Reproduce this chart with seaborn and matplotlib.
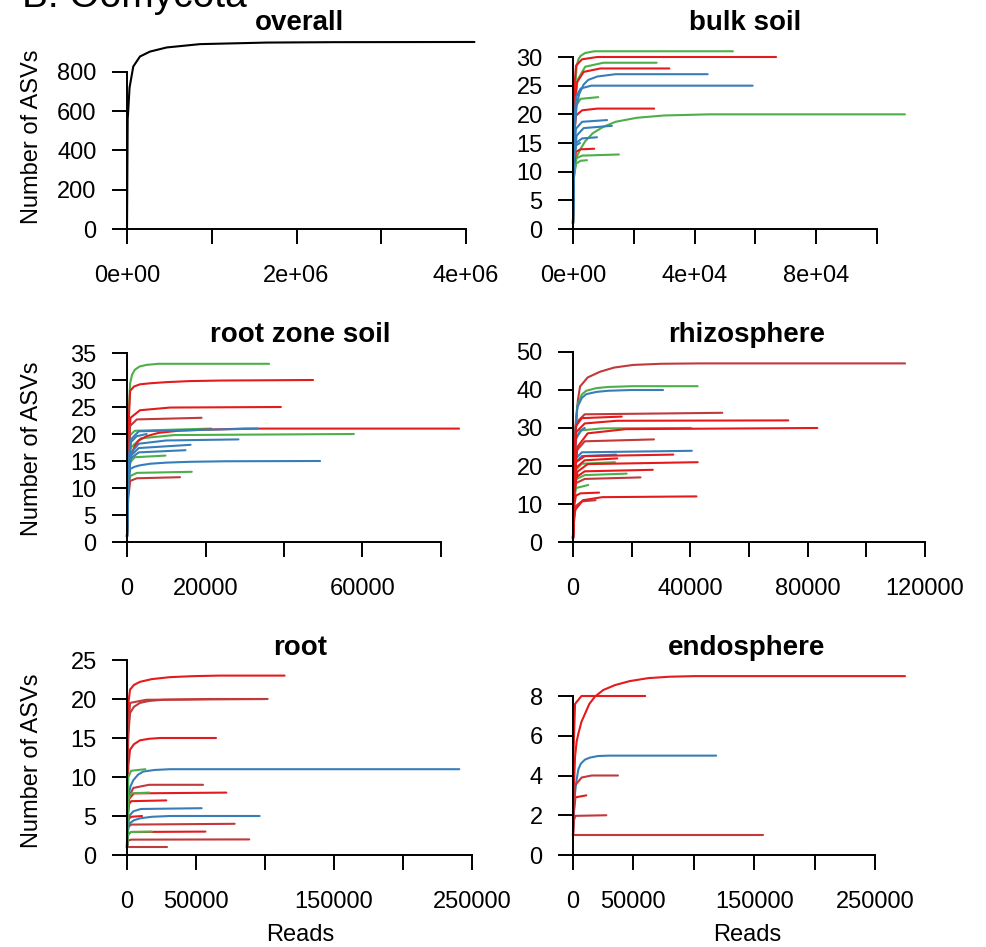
import matplotlib
matplotlib.use("Agg")
import matplotlib.pyplot as plt
import pandas as pd
import seaborn as sns

# rarefaction curves: points along each curve (reads, ASVs)
# group: R = red, D = dark red, B = blue, G = green, K = black

overall_group = ["K"]
overall_reads = [[0, 8000, 15000, 30000, 74000, 153000, 271000, 468000, 861000, 1650000, 2440000, 4100000]]
overall_asvs = [[1, 560, 607, 720, 828, 879, 904, 925, 942, 950, 952, 953]]

bulk_group = ["G", "R", "G", "R", "B", "B", "G", "R", "G", "B", "B", "B", "B", "R", "G", "G"]
bulk_reads = [
    [0, 400, 1200, 1800, 2500, 4000, 7000, 52600],
    [0, 300, 1000, 3000, 8000, 66800],
    [0, 400, 1500, 4000, 10000, 27500],
    [0, 300, 1200, 3500, 9000, 31700],
    [0, 500, 1200, 2000, 3500, 5000, 8000, 14000, 44300],
    [0, 300, 1000, 2500, 6000, 59100],
    [0, 300, 1000, 2500, 8300],
    [0, 300, 1000, 3000, 8000, 26700],
    [0, 300, 1200, 2300, 4000, 6500, 9900, 14000, 21000, 30000, 45000, 109200],
    [0, 300, 1000, 3000, 11200],
    [0, 300, 1200, 3500, 12800],
    [0, 300, 1000, 3000, 7900],
    [0, 300, 1000, 2300],
    [0, 300, 1000, 2500, 7000],
    [0, 300, 1000, 3000, 15100],
    [0, 300, 1000, 2500, 4600],
]
bulk_asvs = [
    [1, 22, 28.5, 29.6, 30.2, 30.7, 31, 31],
    [1, 24, 28.5, 29.6, 30, 30],
    [1, 20, 26, 28.3, 29, 29],
    [1, 20, 25.5, 27.4, 28, 28],
    [1, 17, 21.5, 23.5, 25.2, 26, 26.6, 27, 27],
    [1, 18, 23, 24.5, 25, 25],
    [1, 17, 21.5, 22.7, 23],
    [1, 16, 19.8, 20.7, 21, 21],
    [1, 9, 12.6, 13.8, 15.3, 16.7, 17.8, 18.7, 19.4, 19.8, 20, 20],
    [1, 14, 17.5, 18.7, 19],
    [1, 12, 16.3, 17.6, 18],
    [1, 12, 15, 15.8, 16],
    [1, 12, 14.6, 15],
    [1, 11, 13.5, 13.9, 14],
    [1, 10, 12.3, 12.8, 13],
    [1, 9, 11.4, 11.9, 12],
]

rootzone_group = ["G", "R", "R", "D", "R", "B", "G", "B", "G", "B", "B", "B", "G", "B", "G", "D"]
rootzone_reads = [
    [0, 300, 800, 1300, 2000, 3200, 5000, 8000, 36200],
    [0, 300, 800, 1800, 3300, 6000, 10000, 16000, 24000, 47400],
    [0, 300, 900, 3300, 11000, 39200],
    [0, 300, 800, 2500, 19000],
    [0, 300, 1000, 2000, 3000, 5000, 8000, 13000, 20000, 30000, 84600],
    [0, 300, 1000, 3000, 33300],
    [0, 300, 800, 2000, 21500],
    [0, 300, 1000, 2500, 5000],
    [0, 300, 1000, 3500, 12000, 57800],
    [0, 300, 1000, 3000, 10000, 28400],
    [0, 300, 1000, 3000, 16200],
    [0, 300, 1000, 3000, 14900],
    [0, 300, 800, 2000, 9800],
    [0, 300, 800, 1800, 3300, 6000, 10000, 16000, 25000, 49200],
    [0, 300, 800, 2500, 16500],
    [0, 300, 800, 2500, 13500],
]
rootzone_asvs = [
    [1, 22, 29.4, 31.0, 31.9, 32.5, 32.8, 33, 33],
    [1, 20, 28, 28.8, 29.2, 29.4, 29.6, 29.8, 29.9, 30],
    [1, 17, 23, 24.4, 24.9, 25],
    [1, 15, 21.5, 22.7, 23],
    [1, 12, 16, 17.8, 18.8, 19.6, 20.2, 20.6, 20.8, 21, 21],
    [1, 14, 19, 20.5, 21],
    [1, 16, 19.8, 20.6, 21],
    [1, 14, 18.5, 19.6, 20],
    [1, 13, 17.5, 19.2, 19.8, 20],
    [1, 13, 16.5, 18.2, 18.8, 19],
    [1, 12, 16, 17.4, 18],
    [1, 12, 15.5, 16.6, 17],
    [1, 11, 14.8, 15.7, 16],
    [1, 10, 13.5, 13.9, 14.2, 14.5, 14.7, 14.85, 14.95, 15],
    [1, 9, 12.2, 12.8, 13],
    [1, 8, 11.3, 11.8, 12],
]

rhizo_group = ["D", "G", "B", "D", "R", "R", "R", "G", "B", "D", "B", "R",
               "B", "R", "R", "G", "R", "G", "D", "G", "R", "R", "D"]
rhizo_reads = [
    [0, 340, 1000, 1700, 2400, 5000, 9200, 14000, 20500, 30000, 43000, 113200],
    [0, 400, 1500, 3000, 4500, 8000, 12000, 20000, 42500],
    [0, 400, 1500, 3000, 4500, 8000, 12000, 20000, 30700],
    [0, 300, 1200, 4000, 50900],
    [0, 300, 1000, 3000, 16600],
    [0, 300, 1200, 4000, 15000, 73400],
    [0, 300, 1500, 5000, 18000, 83300],
    [0, 300, 1000, 3000, 10000, 40200],
    [0, 300, 1000, 2500, 4000],
    [0, 300, 1200, 4000, 27600],
    [0, 300, 1000, 3000, 40500],
    [0, 300, 1000, 4000, 34200],
    [0, 300, 1000, 3000, 14700],
    [0, 300, 1000, 4000, 15100],
    [0, 300, 1500, 5000, 42500],
    [0, 300, 1000, 3000, 14300],
    [0, 300, 1000, 4000, 27200],
    [0, 300, 1000, 4000, 18300],
    [0, 300, 1000, 4000, 23000],
    [0, 300, 1000, 5200],
    [0, 300, 1000, 2500, 8900],
    [0, 300, 700, 3400, 10000, 42100],
    [0, 300, 1000, 3000, 7700],
]
rhizo_asvs = [
    [1, 25, 32, 37.5, 40.9, 43.3, 44.8, 45.9, 46.6, 46.9, 47, 47],
    [1, 25, 36, 38.8, 39.8, 40.5, 40.8, 41, 41],
    [1, 25, 35.5, 37.9, 38.9, 39.5, 39.8, 40, 40],
    [1, 22, 31.5, 33.6, 34],
    [1, 22, 30.5, 32.6, 33],
    [1, 20, 29, 31.2, 31.9, 32],
    [1, 15, 25, 28.6, 29.7, 30],
    [1, 18, 27.5, 29.4, 29.9, 30],
    [1, 18, 27, 29.3, 30],
    [1, 15, 24, 26.5, 27],
    [1, 15, 22, 23.6, 24],
    [1, 14, 21, 22.6, 23],
    [1, 14, 21, 22.6, 23],
    [1, 13, 19.5, 21.5, 22],
    [1, 12, 18.5, 20.5, 21],
    [1, 13, 19, 20.6, 21],
    [1, 12, 17, 18.6, 19],
    [1, 12, 16.5, 17.6, 18],
    [1, 11, 15.5, 16.6, 17],
    [1, 10, 14.2, 15],
    [1, 9, 12.2, 12.8, 13],
    [1, 5, 8.4, 11, 11.8, 12],
    [1, 6, 9.5, 10.7, 11],
]

root_group = ["R", "D", "D", "R", "B", "G", "D", "R", "G", "R", "B", "B", "R", "D", "R", "G", "D", "D"]
root_reads = [
    [0, 300, 1000, 2200, 5000, 9400, 18000, 31000, 48000, 67000, 114200],
    [0, 300, 2200, 14000, 101900],
    [0, 300, 1000, 2200, 5000, 9400, 16000, 26000, 60000, 100000],
    [0, 300, 1000, 2200, 5000, 9400, 16000, 24000, 64500],
    [0, 300, 1000, 2500, 4600, 8000, 11800, 20000, 31000, 240800],
    [0, 300, 1000, 3000, 13300],
    [0, 300, 1500, 4600, 16000, 55100],
    [0, 300, 1500, 5000, 72000],
    [0, 300, 1000, 3000, 16200],
    [0, 300, 1000, 3000, 28500],
    [0, 300, 1500, 4600, 10000, 54100],
    [0, 300, 1000, 2200, 5000, 9400, 18000, 31000, 96100],
    [0, 300, 1000, 3000, 10900],
    [0, 300, 1000, 3000, 78000],
    [0, 300, 1000, 3000, 56800],
    [0, 300, 1000, 3000, 18100],
    [0, 300, 1000, 3000, 88600],
    [0, 29000],
]
root_asvs = [
    [1, 15, 19.5, 21.2, 21.8, 22.2, 22.55, 22.8, 22.93, 23, 23],
    [1, 14, 19.5, 19.9, 20],
    [1, 10, 15.5, 18.2, 19.0, 19.5, 19.75, 19.9, 20, 20],
    [1, 8, 11.5, 13.5, 14.2, 14.7, 14.9, 15, 15],
    [1, 4, 7.5, 8.8, 9.6, 10.3, 10.7, 10.9, 11, 11],
    [1, 6, 10, 10.8, 11],
    [1, 4, 7.5, 8.6, 9, 9],
    [1, 4, 7.2, 7.9, 8],
    [1, 4, 7.2, 7.9, 8],
    [1, 4, 6.4, 6.9, 7],
    [1, 3, 5, 5.6, 5.9, 6],
    [1, 2.5, 3.5, 4.1, 4.45, 4.7, 4.9, 5, 5],
    [1, 3, 4.6, 4.9, 5],
    [1, 2.5, 3.6, 3.9, 4],
    [1, 2, 2.7, 2.95, 3],
    [1, 2, 2.7, 2.95, 3],
    [1, 1.5, 1.85, 1.97, 2],
    [1, 1],
]

endo_group = ["R", "R", "B", "D", "R", "D", "D"]
endo_reads = [
    [0, 300, 800, 1700, 3000, 4400, 7000, 9900, 13500, 18200, 25000, 34800, 47000, 62400, 80000, 100000, 274800],
    [0, 300, 1700, 7000, 59800],
    [0, 500, 1200, 2000, 3000, 4400, 6500, 9900, 14000, 20700, 30000, 118500],
    [0, 500, 1700, 7200, 15500, 37200],
    [0, 500, 2000, 11000],
    [0, 500, 2000, 27600],
    [0, 157100],
]
endo_asvs = [
    [1, 2, 3.5, 4.95, 5.7, 6.1, 6.7, 7.1, 7.6, 7.97, 8.3, 8.55, 8.75, 8.9, 8.97, 9, 9],
    [1, 5, 7.6, 8, 8],
    [1, 2, 2.8, 3.3, 3.8, 4.3, 4.6, 4.8, 4.9, 4.98, 5, 5],
    [1, 2, 3.5, 3.9, 4, 4],
    [1, 2, 2.9, 3],
    [1, 1.7, 1.97, 2],
    [1, 1],
]

# axis ticks and labels (R drops labels that would overlap)
overall_xticks = [0, 1e6, 2e6, 3e6, 4e6]
overall_xlabels = ["0e+00", "", "2e+06", "", "4e+06"]
overall_yticks = [0, 200, 400, 600, 800]
bulk_xticks = [0, 2e4, 4e4, 6e4, 8e4, 1e5]
bulk_xlabels = ["0e+00", "", "4e+04", "", "8e+04", ""]
bulk_yticks = [0, 5, 10, 15, 20, 25, 30]
rootzone_xticks = [0, 20000, 40000, 60000, 80000]
rootzone_xlabels = ["0", "20000", "", "60000", ""]
rootzone_yticks = [0, 5, 10, 15, 20, 25, 30, 35]
rhizo_xticks = [0, 20000, 40000, 60000, 80000, 100000, 120000]
rhizo_xlabels = ["0", "", "40000", "", "80000", "", "120000"]
rhizo_yticks = [0, 10, 20, 30, 40, 50]
root_xticks = [0, 50000, 100000, 150000, 200000, 250000]
root_xlabels = ["0", "50000", "", "150000", "", "250000"]
root_yticks = [0, 5, 10, 15, 20, 25]
endo_xticks = root_xticks
endo_xlabels = root_xlabels
endo_yticks = [0, 2, 4, 6, 8]

palette = {"R": "#E41A1C", "D": "#C0393B", "B": "#377EB8", "G": "#4DAF4A", "K": "black"}

sns.set_style("white")
plt.rcParams["font.family"] = ["Liberation Sans", "DejaVu Sans"]

W, H = 987, 947
fig = plt.figure(figsize=(W / 100, H / 100), dpi=100)
fig.patch.set_facecolor("white")


def to_frame(groups, reads, asvs):
    rows = []
    for i, (g, xs, ys) in enumerate(zip(groups, reads, asvs)):
        for x, y in zip(xs, ys):
            rows.append((i, g, x, y))
    return pd.DataFrame(rows, columns=["sample", "group", "reads", "asvs"])


# (title, data, xticks, xlabels, yticks, pixel box: left, right, top, bottom, title pos)
panels = [
    ("overall", (overall_group, overall_reads, overall_asvs), overall_xticks, overall_xlabels, overall_yticks,
     (127, 466, 72, 229), (300, 30)),
    ("bulk soil", (bulk_group, bulk_reads, bulk_asvs), bulk_xticks, bulk_xlabels, bulk_yticks,
     (573, 877, 57, 229), (745, 30)),
    ("root zone soil", (rootzone_group, rootzone_reads, rootzone_asvs), rootzone_xticks, rootzone_xlabels,
     rootzone_yticks, (127, 441, 353, 542), (300, 342)),
    ("rhizosphere", (rhizo_group, rhizo_reads, rhizo_asvs), rhizo_xticks, rhizo_xlabels, rhizo_yticks,
     (573, 925, 352, 542), (747, 342)),
    ("root", (root_group, root_reads, root_asvs), root_xticks, root_xlabels, root_yticks,
     (127, 472, 660, 855), (300, 655)),
    ("endosphere", (endo_group, endo_reads, endo_asvs), endo_xticks, endo_xlabels, endo_yticks,
     (573, 875, 696, 855), (747, 655)),
]

for title, data, xt, xl, yt, box, tpos in panels:
    left, right, top, bottom = box
    ax = fig.add_axes([left / W, 1 - bottom / H, (right - left) / W, (bottom - top) / H])
    ax.set_facecolor("none")
    df = to_frame(*data)
    sns.lineplot(data=df, x="reads", y="asvs", units="sample", estimator=None,
                 hue="group", palette=palette, sort=False, legend=False,
                 linewidth=1.5, ax=ax)
    for line in ax.lines:
        line.set_clip_on(False)
        line.set_solid_joinstyle("round")
    ax.set_xlim(xt[0], xt[-1])
    ax.set_ylim(yt[0], yt[-1])
    ax.set_xticks(xt)
    ax.set_xticklabels(xl)
    ax.set_yticks(yt)
    ax.set_yticklabels([str(v) for v in yt])
    ax.set_xlabel("")
    ax.set_ylabel("")
    for s in ["top", "right"]:
        ax.spines[s].set_visible(False)
    for s in ["left", "bottom"]:
        ax.spines[s].set_linewidth(1.4)
        ax.spines[s].set_color("black")
    ax.tick_params(axis="both", which="major", bottom=True, left=True, direction="out",
                   length=10.8, width=1.4, color="black", labelsize=17, labelcolor="black")
    ax.tick_params(axis="x", pad=15)
    ax.tick_params(axis="y", pad=11)
    fig.text(tpos[0] / W, 1 - tpos[1] / H, title, ha="center", va="baseline",
             fontsize=20, fontweight="bold", color="black")

for yc in [137, 449, 761]:
    fig.text(32 / W, 1 - yc / H, "Number of ASVs", rotation=90, ha="center", va="center",
             fontsize=17, color="black")
for xc in [300, 747]:
    fig.text(xc / W, 1 - 941 / H, "Reads", ha="center", va="baseline", fontsize=17, color="black")

fig.text(22 / W, 1 - 7 / H, "B: Oomycota", ha="left", va="baseline", fontsize=28, color="black")

fig.savefig("out.png", dpi=100, facecolor="white")
